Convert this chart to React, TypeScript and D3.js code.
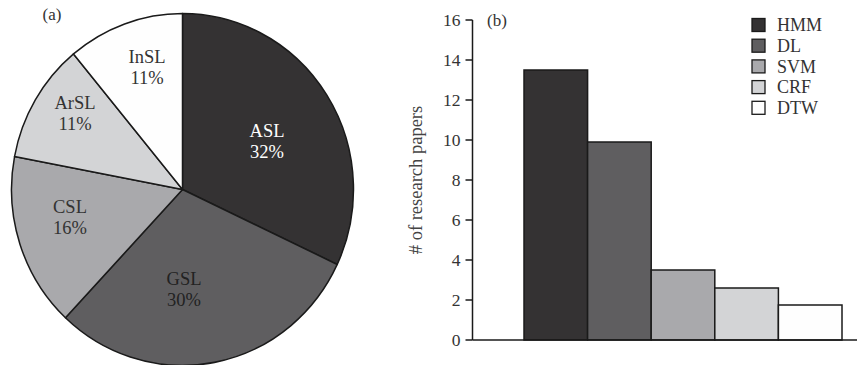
import React from "react";
import * as d3 from "d3";

const pieLabels = ["ASL", "GSL", "CSL", "ArSL", "InSL"];
const pieValues = [32, 30, 16, 11, 11];
const pieColors = ["#343233", "#5f5e60", "#a9a9ac", "#d3d4d6", "#fefefe"];
const pieTextColors = ["#ffffff", "#222222", "#333333", "#333333", "#333333"];

const barCategories = ["HMM", "DL", "SVM", "CRF", "DTW"];
const barValues = [13.5, 9.9, 3.5, 2.6, 1.75];
const barColors = ["#343233", "#5f5e60", "#a9a9ac", "#d3d4d6", "#fefefe"];
const yTicks = [0, 2, 4, 6, 8, 10, 12, 14, 16];

const FONT = "'Liberation Serif', 'Times New Roman', serif";

export default function App() {
  const W = 857, H = 365;
  // Pie
  const cx = 182.5, cy = 189.5, r = 171, sy = 176 / 171;
  const pieGen = d3.pie<number>().sort(null).value((d) => d);
  const arcs = pieGen(pieValues);
  const arcGen = d3.arc<d3.PieArcDatum<number>>().innerRadius(0).outerRadius(r);
  const labelPos: [number, number][] = [
    [267, 131], [184, 279], [70, 207], [75, 103], [147, 57],
  ];

  // Bars
  const y = d3.scaleLinear().domain([0, 16]).range([340, 20]);
  const x = d3.scaleBand().domain(barCategories).range([524, 842]).padding(0);
  const axisX = 472.5;

  return (
    <svg width={W} height={H} style={{ position: "absolute", left: 0, top: 0 }} fontFamily={FONT}>
      <rect width={W} height={H} fill="#ffffff" />
      <g transform={`translate(${cx},${cy}) scale(1,${sy})`}>
        {arcs.map((a, i) => (
          <path key={i} d={arcGen(a) || ""} fill={pieColors[i]} stroke="#1a1a1a" strokeWidth={1.5} strokeLinejoin="round" />
        ))}
      </g>
      {pieLabels.map((l, i) => (
        <text key={l} x={labelPos[i][0]} y={labelPos[i][1]} textAnchor="middle" fontSize={18.5} fill={pieTextColors[i]}>
          <tspan x={labelPos[i][0]} dy="0.35em">{l}</tspan>
          <tspan x={labelPos[i][0]} dy="1.12em">{pieValues[i]}%</tspan>
        </text>
      ))}
      <text x={52} y={20} textAnchor="middle" fontSize={17} fill="#333">(a)</text>

      {/* bar chart */}
      {barCategories.map((c, i) => (
        <rect key={c} x={x(c)!} y={y(barValues[i])} width={x.bandwidth()} height={y(0) - y(barValues[i])}
          fill={barColors[i]} stroke="#1a1a1a" strokeWidth={1.5} />
      ))}
      <line x1={axisX} x2={axisX} y1={y(16)} y2={y(0)} stroke="#1a1a1a" strokeWidth={1.5} />
      <line x1={axisX} x2={857} y1={y(0)} y2={y(0)} stroke="#1a1a1a" strokeWidth={1.5} />
      {yTicks.map((t) => (
        <g key={t}>
          <line x1={axisX - 7} x2={axisX} y1={y(t)} y2={y(t)} stroke="#1a1a1a" strokeWidth={1.5} />
          <text x={axisX - 12} y={y(t)} dy="0.35em" textAnchor="end" fontSize={17.5} fill="#333">{t}</text>
        </g>
      ))}
      <text transform={`translate(416,180) rotate(-90)`} textAnchor="middle" dy="0.35em" fontSize={18.5} fill="#444">
        # of research papers
      </text>
      <text x={497} y={26} textAnchor="middle" fontSize={17} fill="#333">(b)</text>
      {barCategories.map((c, i) => {
        const ly = 25 + i * 20.7;
        return (
          <g key={c}>
            <rect x={752} y={ly - 6.5} width={13} height={13} fill={barColors[i]} stroke="#1a1a1a" strokeWidth={1.3} />
            <text x={777} y={ly} dy="0.35em" fontSize={18} fill="#333">{c}</text>
          </g>
        );
      })}
    </svg>
  );
}
